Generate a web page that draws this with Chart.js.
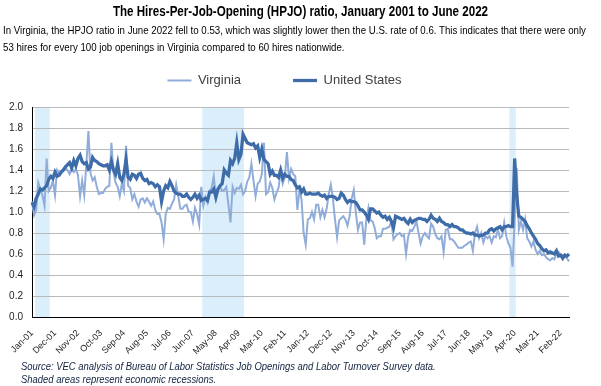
<!DOCTYPE html>
<html>
<head>
<meta charset="utf-8">
<script src="https://cdn.jsdelivr.net/npm/chart.js@4.4.1/dist/chart.umd.min.js"></script>
<style>
  body { margin: 0; background: #fff; }
  #wrap { position: relative; width: 601px; height: 386px; font-family: 'Liberation Sans', Arial, sans-serif; }
  #myChart { position: absolute; left: 0; top: 0; }
  /* Arial Narrow is not available, so squeeze Liberation Sans */
  .narrow { display: inline-block; transform-origin: left center; white-space: nowrap; }
  .title { position: absolute; left: 0; width: 601px; top: 2px; text-align: center; font-weight: bold; font-size: 14.5px; line-height: 18px; color: #000; transform: scaleX(0.8); transform-origin: center; white-space: nowrap; }
  .sub { position: absolute; left: 3px; top: 22px; font-size: 11px; line-height: 16.5px; color: #000; }
  .sub .narrow { transform: scaleX(0.88); }
  .foot { position: absolute; left: 21px; top: 360px; font-size: 11px; line-height: 12.5px; font-style: italic; color: #10213f; }
  .foot .narrow { transform: scaleX(0.86); }
</style>
</head>
<body>
<div id="wrap">
  <canvas id="myChart" width="601" height="386"></canvas>
  <div class="title">The Hires-Per-Job-Opening (HPJO) ratio, January 2001 to June 2022</div>
  <div class="sub">
    <span class="narrow">In Virginia, the HPJO ratio in June 2022 fell to 0.53, which was slightly lower then the U.S. rate of 0.6. This indicates that there were only</span><br>
    <span class="narrow">53 hires for every 100 job openings in Virginia compared to 60 hires nationwide.</span>
  </div>
  <div class="foot">
    <span class="narrow">Source: VEC analysis of Bureau of Labor Statistics Job Openings and Labor Turnover Survey data.</span><br>
    <span class="narrow">Shaded areas represent economic recessions.</span>
  </div>
</div>
<script>
// monthly categories Jan-01 .. Jun-22
const monthNames = ['Jan','Feb','Mar','Apr','May','Jun','Jul','Aug','Sep','Oct','Nov','Dec'];
const months = [];
for (let y = 2001; y <= 2022; y++) {
  for (let m = 0; m < 12; m++) {
    if (y === 2022 && m > 5) break;
    months.push(monthNames[m] + '-' + String(y).slice(2));
  }
}

// labels shown on the x axis
const tickLabels = ['Jan-01','Dec-01','Nov-02','Oct-03','Sep-04','Aug-05','Jul-06','Jun-07','May-08','Apr-09','Mar-10',
  'Feb-11','Jan-12','Dec-12','Nov-13','Oct-14','Sep-15','Aug-16','Jul-17','Jun-18','May-19','Apr-20','Mar-21','Feb-22'];

// shaded recessions (first month, last month)
const recessions = [['Mar-01','Sep-01'], ['Nov-07','Jun-09'], ['Feb-20','Apr-20']];

const virginia = [
  1.10,0.97,1.02,1.28,1.22,1.16,1.06,1.51,1.20,1.23,1.30,1.16,
  1.40,1.37,1.39,1.39,1.42,1.40,1.36,1.42,1.38,1.41,1.35,1.15,
  1.30,1.16,1.45,1.77,1.37,1.30,1.33,1.24,1.17,1.18,1.18,1.22,
  1.24,1.25,1.66,1.38,1.28,1.24,1.15,1.27,1.20,1.63,1.25,1.23,
  1.12,1.17,1.10,1.05,1.12,1.13,1.09,1.13,1.10,1.06,1.10,1.02,
  0.98,0.98,0.90,0.74,0.98,1.04,1.03,1.08,1.12,1.26,1.15,1.03,
  1.03,1.06,1.07,1.00,1.00,0.91,1.04,0.98,0.88,1.24,1.06,1.14,
  1.09,1.20,1.23,1.34,1.13,1.20,1.24,1.20,1.21,1.24,1.07,0.90,
  1.24,1.18,1.23,1.22,1.26,1.17,1.20,1.29,1.33,1.46,1.30,1.15,
  1.27,1.29,1.36,1.66,1.17,1.19,1.28,1.23,1.12,1.18,1.23,1.39,
  1.27,1.33,1.57,1.32,1.41,1.36,1.34,1.02,1.21,1.12,0.80,0.69,
  0.93,0.94,1.00,0.93,1.07,1.07,0.95,1.02,0.95,1.03,1.17,1.26,
  1.13,0.93,0.76,0.92,0.94,0.96,0.93,0.87,0.96,1.13,1.21,0.99,
  0.83,0.90,0.90,0.69,0.93,1.04,0.92,0.91,0.85,0.75,0.77,0.77,
  0.84,0.84,0.85,0.86,0.91,0.74,0.77,0.79,0.80,0.77,0.78,0.60,
  0.76,0.83,0.82,0.86,0.91,0.80,0.70,0.77,0.80,0.77,0.75,0.89,
  0.86,0.79,0.75,0.74,0.77,0.62,0.83,0.84,0.74,0.74,0.72,0.69,
  0.66,0.66,0.66,0.68,0.69,0.71,0.72,0.63,0.80,0.86,0.75,0.80,
  0.71,0.77,0.75,0.77,0.71,0.77,0.76,0.83,0.75,0.77,0.90,0.77,
  0.70,0.66,0.48,0.92,1.42,0.83,0.91,0.83,0.93,0.75,0.72,0.67,
  0.72,0.64,0.60,0.63,0.59,0.60,0.57,0.55,0.54,0.56,0.55,0.61,
  0.62,0.58,0.58,0.58,0.56,0.53
];

const unitedStates = [
  1.09,1.05,1.13,1.17,1.22,1.21,1.23,1.25,1.31,1.34,1.32,1.38,
  1.34,1.35,1.38,1.40,1.43,1.45,1.47,1.42,1.49,1.44,1.51,1.54,
  1.48,1.46,1.47,1.41,1.43,1.52,1.49,1.48,1.46,1.45,1.44,1.44,
  1.45,1.40,1.48,1.40,1.36,1.46,1.33,1.30,1.36,1.50,1.33,1.31,
  1.36,1.35,1.32,1.36,1.37,1.32,1.30,1.31,1.27,1.28,1.27,1.24,
  1.26,1.24,1.10,1.20,1.25,1.23,1.29,1.25,1.20,1.18,1.17,1.17,
  1.15,1.15,1.17,1.14,1.12,1.14,1.17,1.13,1.16,1.11,1.12,1.13,
  1.11,1.19,1.19,1.22,1.14,1.22,1.25,1.27,1.40,1.37,1.35,1.49,
  1.46,1.51,1.66,1.50,1.55,1.74,1.70,1.66,1.65,1.64,1.65,1.61,
  1.63,1.52,1.60,1.50,1.48,1.46,1.36,1.39,1.35,1.35,1.33,1.40,
  1.32,1.36,1.34,1.34,1.31,1.30,1.26,1.23,1.24,1.19,1.22,1.17,
  1.17,1.18,1.17,1.17,1.17,1.18,1.16,1.15,1.16,1.13,1.15,1.15,
  1.15,1.14,1.12,1.13,1.18,1.16,1.12,1.09,1.11,1.10,1.10,1.09,
  1.06,1.02,1.02,1.00,0.97,0.93,1.03,1.03,1.01,0.99,1.00,0.97,
  0.95,0.96,0.93,0.95,0.91,0.85,0.96,0.95,0.94,0.93,0.94,0.91,
  0.89,0.93,0.90,0.92,0.93,0.94,0.94,0.93,0.93,0.91,0.93,0.97,
  0.94,0.93,0.91,0.94,0.91,0.90,0.88,0.88,0.86,0.88,0.86,0.86,
  0.85,0.83,0.83,0.81,0.80,0.80,0.79,0.80,0.78,0.78,0.77,0.78,
  0.78,0.80,0.80,0.83,0.84,0.82,0.84,0.85,0.86,0.83,0.86,0.86,
  0.87,0.86,0.86,1.51,1.15,0.96,0.95,0.93,0.91,0.87,0.84,0.80,
  0.77,0.74,0.70,0.68,0.65,0.63,0.64,0.61,0.62,0.61,0.60,0.63,
  0.58,0.59,0.56,0.59,0.58,0.60
];

const fontFam = "'Liberation Sans', Arial, sans-serif";

// light blue bands behind the grid
const recessionShade = {
  id: 'recessionShade',
  beforeDraw(chart) {
    const {ctx, chartArea, scales: {x}} = chart;
    const half = (x.getPixelForValue(1) - x.getPixelForValue(0)) / 2;
    ctx.save();
    ctx.fillStyle = '#daeefc';
    recessions.forEach(([from, to]) => {
      const x0 = x.getPixelForValue(months.indexOf(from)) - half;
      const x1 = x.getPixelForValue(months.indexOf(to)) + half;
      ctx.fillRect(x0, chartArea.top, x1 - x0, chartArea.bottom - chartArea.top);
    });
    ctx.restore();
  }
};

// keep the gap under the legend like the original
const legendMargin = {
  id: 'legendMargin',
  beforeInit(chart) {
    const fitValue = chart.legend.fit;
    chart.legend.fit = function fit() {
      fitValue.bind(chart.legend)();
      this.height = 85;
    };
  }
};

const ctx = document.getElementById('myChart').getContext('2d');
let myChart = new Chart(ctx, {
  type: 'line',
  data: {
    labels: months,
    datasets: [
      {
        label: 'Virginia',
        data: virginia,
        borderColor: '#90acd9',
        backgroundColor: '#90acd9',
        borderWidth: 2,
        pointRadius: 0,
        tension: 0,
        order: 1
      },
      {
        label: 'United States',
        data: unitedStates,
        borderColor: '#3d6ca9',
        backgroundColor: '#3d6ca9',
        borderWidth: 3.25,
        pointRadius: 0,
        tension: 0,
        order: 0
      }
    ]
  },
  options: {
    responsive: false,
    animation: false,
    layout: { padding: { top: 22, right: 32, left: 0, bottom: 0 } },
    plugins: {
      legend: {
        position: 'top',
        labels: {
          usePointStyle: true,
          pointStyle: 'line',
          pointStyleWidth: 24,
          padding: 52,
          color: '#404040',
          font: { family: fontFam, size: 13 },
          sort: (a, b) => a.datasetIndex - b.datasetIndex
        }
      },
      tooltip: { enabled: false }
    },
    scales: {
      x: {
        grid: { display: false },
        border: { display: true, color: '#000', width: 1 },
        ticks: {
          autoSkip: false,
          minRotation: 45,
          maxRotation: 45,
          padding: 3,
          color: '#222',
          font: { family: fontFam, size: 9 },
          callback: function (val, i) {
            const lab = months[i];
            return tickLabels.includes(lab) ? lab : '';
          }
        },
        afterFit(scale) { scale.height = 69; }
      },
      y: {
        min: 0,
        max: 2,
        grid: { color: '#b9b9b9', drawTicks: false },
        border: { display: true, color: '#000', width: 1 },
        ticks: {
          stepSize: 0.2,
          padding: 9,
          color: '#222',
          font: { family: fontFam, size: 10 },
          callback: v => v.toFixed(1)
        },
        afterFit(scale) { scale.width = 32; }
      }
    }
  },
  plugins: [recessionShade, legendMargin]
});
</script>
</body>
</html>
